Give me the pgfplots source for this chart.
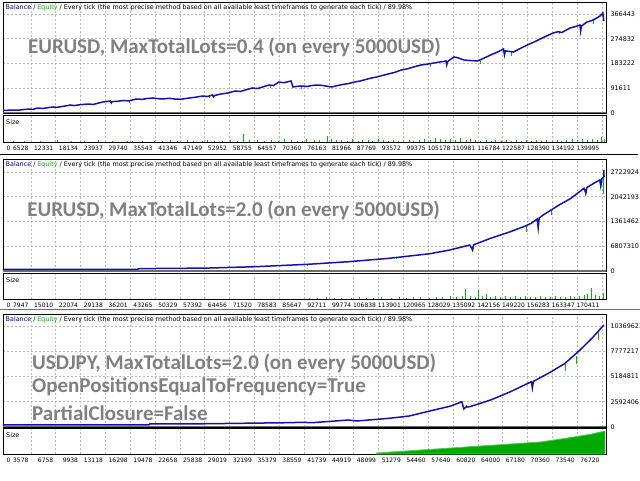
\documentclass[border=0pt]{standalone}
\usepackage{pgfplots}
\pgfplotsset{compat=1.18}
\usepackage{fontspec}
\setmainfont{DejaVu Sans}
\newfontfamily\bigfont{Carlito}
\definecolor{bal}{RGB}{20,20,170}
\definecolor{baltext}{RGB}{0,0,160}
\definecolor{eq}{RGB}{0,190,0}
\definecolor{szg}{RGB}{0,185,0}
\definecolor{areag}{RGB}{0,170,0}
\definecolor{gridc}{RGB}{185,185,185}
\definecolor{ovl}{RGB}{128,128,128}
\definecolor{sepg}{RGB}{110,110,110}
\newcommand\sm{\fontsize{6.4}{7.5}\selectfont}
\newcommand\smx{\fontsize{6.0}{7.2}\selectfont}
\newcommand\ovlfont{\bigfont\bfseries\fontsize{21}{25}\selectfont}
\pgfplotsset{
  mtcommon/.style={
    scale only axis, width=603pt,
    axis line style={black, line width=0.8pt},
    xmin=0, ymin=0,
    xmajorgrids,
    grid style={gridc, dash pattern=on 2pt off 2pt, line width=0.6pt},
    major tick length=0pt,
    scaled ticks=false,
    tick label style={font=\sm},
  },
  mtmain/.style={
    mtcommon,
    ymajorgrids,
    xticklabels={},
    yticklabel pos=right,
    yticklabel style={anchor=west, xshift=1pt},
  },
  mtsize/.style={
    mtcommon,
    ymax=27, ytick=\empty,
    xticklabel style={anchor=north east, yshift=-0.5pt, xshift=1pt, font=\smx},
    extra x ticks={0}, extra x tick labels={0},
    extra x tick style={grid=none, xticklabel style={anchor=north west, xshift=-1pt}},
  },
}
\newcommand\bottomline{\draw[sepg, line width=1.5pt] (rel axis cs:0,0) -- (rel axis cs:1,0);}
\newcommand\heading{\node[anchor=west, font=\sm, inner sep=0pt, xshift=2.5pt, yshift=-6pt] at (rel axis cs:0,1) {\textcolor{baltext}{Balance} / \textcolor{eq}{Equity} / Every tick (the most precise method based on all available least timeframes to generate each tick) / 89.98\%};}
\newcommand\sizelabel{\node[anchor=west, font=\sm, inner sep=0pt, xshift=3pt, yshift=-7.5pt] at (rel axis cs:0,1) {Size};}
\begin{document}
\begin{tikzpicture}
\useasboundingbox (0pt,0pt) rectangle (640pt,480pt);
\fill[white] (0pt,0pt) rectangle (640pt,480pt);
\clip (0pt,0pt) rectangle (640pt,480pt);
% ================= PANEL 1 =================
\begin{axis}[mtmain, at={(3pt,478pt)}, anchor=north west, height=111pt,
  xmax=140930, ymax=410840,
  xtick={6528,12331,18134,23937,29740,35543,41346,47149,52952,58755,64557,70360,76163,81966,87769,93572,99375,105178,110981,116784,122587,128390,134192,139995},
  ytick={0,91611,183222,274832,366443},
  yticklabels={0,91611,183222,274832,366443}]
\bottomline
\addplot[eq, line width=0.9pt, unbounded coords=jump] coordinates {
(29500,44000) (29500,38000) (29600,nan)
(48300,66000) (48300,55000) (48400,nan)
(62500,103000) (62500,92000) (62600,nan)
(69863,99000) (69863,88000) (69900,nan)
(100000,183000) (100000,170000) (100100,nan)
(111600,194000) (111600,183000) (111700,nan)
(118800,226000) (118800,212000) (118900,nan)
(130000,305000) (130000,292000) (130100,nan)
(138100,348000) (138100,330000) (138200,nan)
};
\addplot[bal, line width=1.5pt] coordinates {
(0,9300) (2300,11000) (3500,10200) (4900,13000) (6200,14500) (7000,13200) (7900,18000) (9500,17200) (10800,20500) (11800,22200) (12600,20800) (14000,24500) (15800,29600) (16600,27500) (18200,31000) (20000,33300) (21100,31500) (22500,37500) (23400,40700) (25067,44400) (25300,37000) (25500,42000) (26800,43500) (28080,46300) (29500,44800) (31100,51800) (32500,50500) (33900,54000) (35000,55500) (36200,53000) (37400,51800) (38800,54500) (40300,51500) (42000,51800) (43500,55500) (45000,58500) (46650,62900) (47800,61000) (48973,66600) (49200,59000) (49500,65000) (51000,70500) (52600,74000) (54300,81400) (55500,79500) (56800,86000) (58257,92500) (59500,90500) (60800,97000) (62200,103600) (63200,101500) (64500,114700) (65600,112000) (67310,118500) (67774,96200) (68600,98500) (69863,99900) (71000,98000) (72500,102500) (73800,103600) (75000,101000) (76825,96200) (78000,101000) (79500,106000) (80800,109000) (82163,114700) (83500,118500) (84800,124000) (86109,129500) (87500,134000) (88800,139500) (90055,144400) (91500,150000) (93072,159200) (94500,163500) (96000,170500) (97714,177700) (99000,180500) (100731,185100) (102000,188500) (103516,192500) (103700,178000) (103900,190000) (105375,207300) (106200,205000) (107695,196200) (109300,194000) (110945,192500) (112400,203000) (113962,214700) (115500,225000) (116979,236900) (117200,215000) (117400,230000) (118300,228000) (119300,225800) (120800,238000) (122550,251700) (124000,262000) (125567,273900) (127000,285000) (128584,296100) (129700,301000) (130600,298000) (132530,314600) (133800,320000) (134851,325700) (135000,303000) (135200,322000) (136476,336800) (137600,342000) (138797,351700) (139600,360000) (140189,370200) (140421,340500)
};
\heading
\node[anchor=west, text=ovl, font=\ovlfont, inner sep=0pt] at (rel axis cs:0.0415,0.595) {EURUSD, MaxTotalLots=0.4 (on every 5000USD)};
\end{axis}
\begin{axis}[mtsize, at={(3pt,365pt)}, anchor=north west, height=27pt,
  xmax=140930,
  xtick={6528,12331,18134,23937,29740,35543,41346,47149,52952,58755,64557,70360,76163,81966,87769,93572,99375,105178,110981,116784,122587,128390,134192,139995},
  xticklabels={6528,12331,18134,23937,29740,35543,41346,47149,52952,58755,64557,70360,76163,81966,87769,93572,99375,105178,110981,116784,122587,128390,134192,139995}]
\addplot[szg, ycomb, line width=0.9pt] coordinates {
(2500,1)(5100,1)(8800,1)(12800,2)(15900,1)(19000,1)(22300,2)(25600,1)(29000,1)(30200,1)(32600,1)(35300,1)(37200,1)(39200,2)(40800,1)(43000,2)(44400,1)(46600,1)(47800,2)(49400,1)(51300,1)(53100,2)(54700,1)(56100,8)(57600,2)(59400,2)(61000,1)(62800,2)(64300,1)(65700,3)(67500,2)(68700,1)(69900,1)(71000,3)(72800,2)(74000,2)(75900,6)(76800,3)(78000,2)(79200,2)(80500,1)(81600,3)(83000,1)(84100,2)(85300,2)(86400,1)(87800,3)(89000,2)(90200,1)(91300,2)(92500,1)(93700,1)(94900,2)(96000,1)(97400,2)(98600,3)(99800,2)(101000,4)(102200,3)(103400,2)(104600,3)(105800,2)(106900,4)(108200,2)(109300,3)(110500,2)(111700,1)(112900,2)(114100,1)(115200,2)(116400,1)(117600,2)(118800,1)(120000,2)(121100,1)(122300,2)(123500,1)(124700,2)(125900,1)(127100,2)(128300,1)(129500,2)(130600,1)(131800,2)(133000,3)(134200,2)(135400,3)(136500,2)(137700,3)(138900,2)(139800,5)(140600,3)
};
\sizelabel
\end{axis}
\draw[black, line width=1pt] (0pt,325pt) -- (638pt,325pt);
% ================= PANEL 2 =================
\begin{axis}[mtmain, at={(3pt,321pt)}, anchor=north west, height=112pt,
  xmax=171549, ymax=30804800,
  xtick={7947,15010,22074,29138,36201,43265,50329,57392,64456,71520,78583,85647,92711,99774,106838,113901,120965,128029,135092,142156,149220,156283,163347,170411},
  ytick={0,6807310,13614621,20421931,27229241},
  yticklabels={0,6807310,13614621,20421931,27229241}]
\bottomline
\addplot[eq, line width=0.9pt, unbounded coords=jump] coordinates {
(86700,1800000) (86700,1300000) (86800,nan)
(112000,3900000) (112000,3300000) (112100,nan)
(133620,7000000) (133620,5300000) (133700,nan)
(148875,12300000) (148875,10700000) (148900,nan)
(156000,17000000) (156000,15300000) (156100,nan)
(165830,22600000) (165830,20500000) (165900,nan)
(170913,25500000) (170913,21200000) (171000,nan)
};
\addplot[bal, line width=1.5pt] coordinates {
(0,420000) (38138,420000) (38700,650000) (57913,800000) (71755,1182685) (86728,1842788) (98310,2557900) (109893,3493046) (121475,4758244) (127125,5775903) (132775,7151118) (133620,5775903) (133900,7200000) (138710,8993906) (144360,10809190) (148600,12376935) (150283,13119551) (151980,14302236) (152260,11826849) (152550,14577279) (153683,15402408) (158203,18152838) (161593,19995626) (165265,22746056) (165830,21453354) (166100,22966090) (168088,24121271) (169783,25028913) (170065,23378655) (170350,25300000) (170913,25936555) (170913,27779343) (171000,25800000)
};
\heading
\node[anchor=west, text=ovl, font=\ovlfont, inner sep=0pt] at (rel axis cs:0.04,0.545) {EURUSD, MaxTotalLots=2.0 (on every 5000USD)};
\end{axis}
\begin{axis}[mtsize, at={(3pt,207pt)}, anchor=north west, height=26pt, ymax=26,
  xmax=171549,
  xtick={7947,15010,22074,29138,36201,43265,50329,57392,64456,71520,78583,85647,92711,99774,106838,113901,120965,128029,135092,142156,149220,156283,163347,170411},
  xticklabels={7947,15010,22074,29138,36201,43265,50329,57392,64456,71520,78583,85647,92711,99774,106838,113901,120965,128029,135092,142156,149220,156283,163347,170411}]
\addplot[szg, ycomb, line width=0.9pt] coordinates {
(87300,1)(89500,1)(92100,2)(94300,1)(96300,1)(99100,1)(101400,2)(103400,1)(105400,1)(107600,2)(110400,1)(112700,2)(114700,1)(116700,2)(118900,2)(121200,1)(123200,2)(125100,2)(127400,3)(129100,2)(130800,3)(131600,10)(133000,3)(134500,2)(135300,9)(136500,3)(137600,5)(138700,2)(140100,3)(141500,2)(142900,3)(144400,2)(145800,3)(147200,2)(148600,3)(150000,2)(151400,2)(152800,3)(154200,2)(155700,2)(157100,3)(158500,2)(159900,2)(161300,3)(162700,2)(164100,3)(165500,4)(166300,5)(167500,11)(168600,4)(169800,3)(170900,6)
};
\sizelabel
\end{axis}
\draw[sepg, line width=1.5pt] (0pt,170.5pt) -- (640pt,170.5pt);
% ================= PANEL 3 =================
\begin{axis}[mtmain, at={(3pt,166pt)}, anchor=north west, height=113pt,
  xmax=77230, ymax=11601700,
  xtick={3578,6758,9938,13118,16298,19478,22658,25838,29019,32199,35379,38559,41739,44919,48099,51279,54460,57640,60820,64000,67180,70360,73540,76720},
  ytick={0,2592406,5184811,7777217,10369623},
  yticklabels={0,2592406,5184811,7777217,10369623}]
\bottomline
\addplot[eq, line width=0.9pt, unbounded coords=jump] coordinates {
(59400,2300000) (59400,1900000) (59500,nan)
(72000,6500000) (72000,5800000) (72100,nan)
(73400,7300000) (73400,6500000) (73500,nan)
(76200,9800000) (76200,8900000) (76300,nan)
};
\addplot[bal, line width=1.5pt] coordinates {
(0,230000) (18700,230000) (18826,330000) (25567,330000) (36506,441481) (38287,482549) (39560,440000) (44266,718690) (45284,616020) (49481,893229) (52025,1129370) (55205,1745390) (57367,2156070) (58766,2597551) (59021,1848060) (59275,2050000) (59784,2084201) (62455,2772090) (65000,3624251) (67671,4650951) (67800,4004130) (67926,4680000) (70216,5677651) (71995,6540079) (73903,7905590) (75430,9106829) (76956,10472340)
};
\heading
\node[anchor=west, text=ovl, font=\ovlfont, inner sep=0pt] at (rel axis cs:0.048,0.566) {USDJPY, MaxTotalLots=2.0 (on every 5000USD)};
\node[anchor=west, text=ovl, font=\ovlfont, inner sep=0pt] at (rel axis cs:0.048,0.354) {OpenPositionsEqualToFrequency=True};
\node[anchor=west, text=ovl, font=\ovlfont, inner sep=0pt] at (rel axis cs:0.048,0.124) {PartialClosure=False};
\end{axis}
\begin{axis}[mtsize, at={(3pt,52pt)}, anchor=north west, height=26pt, ymax=26,
  xmax=77230,
  xtick={3578,6758,9938,13118,16298,19478,22658,25838,29019,32199,35379,38559,41739,44919,48099,51279,54460,57640,60820,64000,67180,70360,73540,76720},
  xticklabels={3578,6758,9938,13118,16298,19478,22658,25838,29019,32199,35379,38559,41739,44919,48099,51279,54460,57640,60820,64000,67180,70360,73540,76720}]
\addplot[fill=areag, draw=szg!70!white, line width=0.8pt] coordinates {
(47830,0) (47830,1) (53550,4) (61180,8) (68820,12) (71500,15) (73900,18) (75400,20) (77100,23) (77100,0)
} \closedcycle;
\sizelabel
\end{axis}
\end{tikzpicture}
\end{document}
